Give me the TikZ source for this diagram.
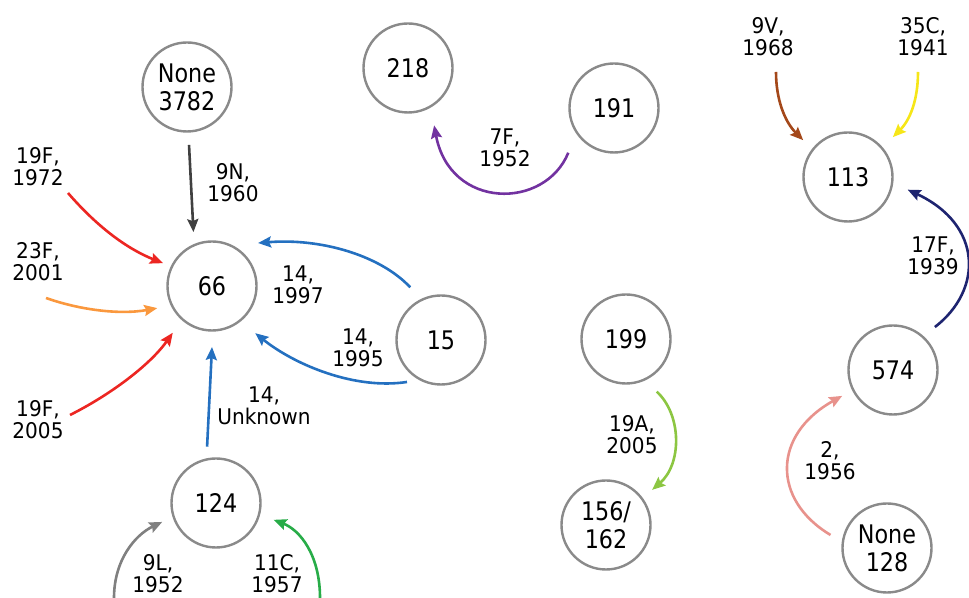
\documentclass[tikz,border=0pt]{standalone}
\usepackage{fontspec}
\setmainfont{DejaVu Sans}
\newfontfamily\ringfont[FakeStretch=0.87]{DejaVu Sans}
\newfontfamily\tagfont[FakeStretch=0.93]{DejaVu Sans}
\usepackage{tikz}
\usetikzlibrary{arrows.meta,calc}
\definecolor{ringgray}{RGB}{138,138,138}
\definecolor{cdark}{RGB}{64,64,64}
\definecolor{cred}{RGB}{236,38,34}
\definecolor{corange}{RGB}{250,152,62}
\definecolor{cblue}{RGB}{36,112,192}
\definecolor{cgray}{RGB}{128,128,128}
\definecolor{cgreen}{RGB}{40,172,72}
\definecolor{cpurple}{RGB}{114,50,160}
\definecolor{cbrown}{RGB}{164,72,26}
\definecolor{cyellow}{RGB}{246,230,24}
\definecolor{cnavy}{RGB}{30,36,112}
\definecolor{clime}{RGB}{140,198,66}
\definecolor{cpink}{RGB}{232,146,140}
\tikzset{
  circ/.style={draw=ringgray,circle,line width=1.2pt,minimum size=44.5pt,inner sep=0pt,align=center,font=\ringfont\fontsize{12.8}{14}\selectfont},
  arr/.style={-{Stealth[length=6.5pt,width=5.5pt,inset=1pt]},line width=1.3pt,draw=#1},
  arr/.default={cdark},
  lbl/.style={align=center,inner sep=0pt,font=\tagfont\fontsize{10.8}{11}\selectfont},
}

\begin{document}
\begin{tikzpicture}[x=0.5pt,y=0.5pt]
 \useasboundingbox (0,0) rectangle (969,598);
 % serotype nodes
 \node[circ] (n3782) at (187,511) {None\\3782};
 \node[circ] (n66)   at (212,312) {66};
 \node[circ] (n124)  at (216,95)  {124};
 \node[circ] (n15)   at (441,258) {15};
 \node[circ] (n218)  at (408,530) {218};
 \node[circ] (n191)  at (614,490) {191};
 \node[circ] (n113)  at (848,421) {113};
 \node[circ] (n199)  at (626,259) {199};
 \node[circ] (n156)  at (606,73)  {156/\\162};
 \node[circ] (n574)  at (893,228) {574};
 \node[circ] (n128)  at (887,50)  {None\\128};
 % free ends
 \coordinate (s19a) at (68,405);
 \coordinate (s23)  at (46,300);
 \coordinate (s19b) at (70,183);
 \coordinate (s9l)  at (114,0);
 \coordinate (s11c) at (320,0);
 \coordinate (s9v)  at (776,526);
 \coordinate (s35c) at (918,526);
 % labels
 \node[lbl] (l19a)  at (38,431)  {19F,\\1972};
 \node[lbl] (l9n)   at (233,415) {9N,\\1960};
 \node[lbl] (l23)   at (38,336)  {23F,\\2001};
 \node[lbl] (l19b)  at (38,178)  {19F,\\2005};
 \node[lbl] (l1997) at (298,313) {14,\\1997};
 \node[lbl] (l1995) at (358,250) {14,\\1995};
 \node[lbl] (lunk)  at (264,192) {14,\\Unknown};
 \node[lbl] (l9l)   at (158,24)  {9L,\\1952};
 \node[lbl] (l11c)  at (277,24)  {11C,\\1957};
 \node[lbl] (l7f)   at (505,450) {7F,\\1952};
 \node[lbl] (l9v)   at (768,561) {9V,\\1968};
 \node[lbl] (l35c)  at (923,561) {35C,\\1941};
 \node[lbl] (l17f)  at (933,342) {17F,\\1939};
 \node[lbl] (l19x)  at (632,163) {19A,\\2005};
 \node[lbl] (l2)    at (830,137) {2,\\1956};
 % switches
 \draw[arr] ($(n3782)+(-88:58)$) -- ($(n66)+(109:57)$);
 \draw[arr=cred] (s19a) .. controls (100,368) and (130,348) .. ($(n66)+(155:54)$);
 \draw[arr=corange] (s23) .. controls (80,288) and (120,283) .. ($(n66)+(202:59)$);
 \draw[arr=cred] (s19b) .. controls (110,203) and (150,233) .. ($(n66)+(230:61)$);
 \draw[arr=cblue] ($(n124)+(99:57)$) -- ($(n66)+(270:61)$);
 \draw[arr=cblue] ($(n15)+(120.3:61)$) .. controls (380,343) and (320,360) .. ($(n66)+(43:63)$);
 \draw[arr=cblue] ($(n15)+(231:54)$) .. controls (355,208) and (295,233) .. ($(n66)+(-47.5:64)$);
 \draw[arr=cgray] (s9l) .. controls (114,38) and (135,63) .. ($(n124)+(199.4:57)$);
 \draw[arr=cgreen] (s11c) .. controls (320,43) and (300,68) .. ($(n124)+(-16.3:60)$);
 \draw[arr=cpurple] ($(n191)+(224.4:64)$) .. controls (545,388) and (450,388) .. ($(n218)+(-65.5:63)$);
 \draw[arr=cbrown] (s9v) .. controls (776,498) and (785,476) .. ($(n113)+(140.6:58)$);
 \draw[arr=cyellow] (s35c) .. controls (918,498) and (910,478) .. ($(n113)+(41.6:60)$);
 \draw[arr=cnavy] ($(n574)+(45.7:60)$) .. controls (983,308) and (983,373) .. ($(n113)+(-12:61)$);
 \draw[arr=clime] ($(n199)+(-59.7:61)$) .. controls (682,183) and (682,134) .. ($(n156)+(37.3:58)$);
 \draw[arr=cpink] ($(n128)+(167:58)$) .. controls (772,98) and (772,163) .. ($(n574)+(207:57)$);
\end{tikzpicture}
\end{document}
